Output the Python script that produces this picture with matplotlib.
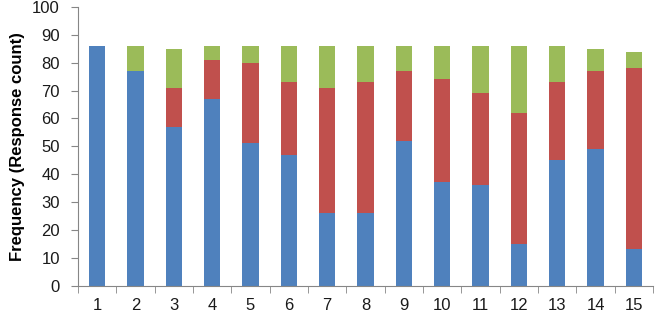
import matplotlib.pyplot as plt
import numpy as np

categories = [str(i) for i in range(1, 16)]
blue_top = [86, 77, 57, 67, 51, 47, 26, 26, 52, 37, 36, 15, 45, 49, 13]
red_top = [86, 77, 71, 81, 80, 73, 71, 73, 77, 74, 69, 62, 73, 77, 78]
total = [86, 86, 85, 86, 86, 86, 86, 86, 86, 86, 86, 86, 86, 85, 84]

blue = np.array(blue_top)
red = np.array(red_top) - blue
green = np.array(total) - np.array(red_top)

plt.rcParams['font.family'] = ['Liberation Sans', 'DejaVu Sans']
fig = plt.figure(figsize=(6.55, 3.18), dpi=100)
ax = fig.add_axes([0.119, 0.102, 0.878, 0.876])

x = np.arange(len(categories))
w = 0.42
ax.bar(x, blue, w, color='#4F81BD')
ax.bar(x, red, w, bottom=blue, color='#C0504D')
ax.bar(x, green, w, bottom=blue + red, color='#9BBB59')

ax.set_xlim(-0.5, len(categories) - 0.5)
ax.set_ylim(0, 100)
ax.set_yticks(range(0, 101, 10))
ax.set_xticks(x)
ax.set_xticklabels(categories)
ax.set_xticks(np.arange(-0.5, len(categories), 1), minor=True)
ax.tick_params(axis='x', which='major', length=0, pad=9, labelsize=12, labelcolor='#1a1a1a')
ax.tick_params(axis='x', which='minor', length=5, color='#868686', direction='out')
ax.tick_params(axis='y', length=5, color='#868686', labelsize=12, pad=8, labelcolor='#1a1a1a')
for s in ['top', 'right']:
    ax.spines[s].set_visible(False)
for s in ['left', 'bottom']:
    ax.spines[s].set_color('#868686')
ax.set_ylabel('Frequency (Response count)', fontweight='bold', fontsize=12, labelpad=5)

fig.savefig('out.png', dpi=100)
